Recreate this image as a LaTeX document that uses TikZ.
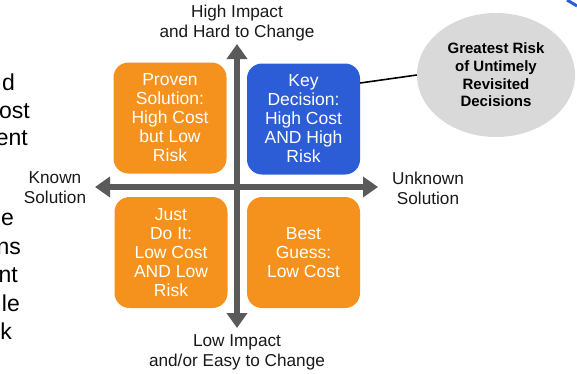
\documentclass[tikz,border=0pt]{standalone}
\usepackage{fontspec}
\setmainfont{Liberation Sans}
\usetikzlibrary{arrows.meta, shapes.geometric}

\definecolor{quadorange}{HTML}{F5921E}
\definecolor{quadblue}{HTML}{2C5DD6}
\definecolor{axisgray}{HTML}{5A5A5A}

\begin{document}
\begin{tikzpicture}[x=1pt, y=-1pt, >={Triangle[length=15pt, width=20pt]}]
          \tikzstyle{quad}=[rounded corners=15pt, minimum width=113pt, minimum height=111pt,
            align=center, text=white, font=\fontsize{17.5}{19}\selectfont]
          \tikzstyle{axislabel}=[align=center, text=black!90, font=\fontsize{17.2}{20}\selectfont]
          \tikzstyle{cut}=[anchor=base east, inner sep=0pt, font=\fontsize{23}{28}\selectfont]

          \useasboundingbox (0,0) rectangle (577,373);

          % text cut off by the left edge
          \node[cut] (c1) at (15,90) {d};
          \node[cut] (c2) at (30,118) {ost};
          \node[cut] (c3) at (28,145) {ent};
          \node[cut] (c4) at (14,225) {e};
          \node[cut] (c5) at (21,254) {ns};
          \node[cut] (c6) at (18,282) {nt};
          \node[cut] (c7) at (20,311) {le};
          \node[cut] (c8) at (12,339) {k};

          % quadrants
          \node[quad, fill=quadorange] (TL) at (170,118) {Proven\\Solution:\\High Cost\\but Low\\Risk};
          \node[quad, fill=quadblue] (TR) at (303.5,119) {Key\\Decision:\\High Cost\\AND High\\Risk};
          \node[quad, fill=quadorange] (BL) at (171,252.5) {Just\\Do It:\\Low Cost\\AND Low\\Risk};
          \node[quad, fill=quadorange] (BR) at (303.5,252.5) {Best\\Guess:\\Low Cost};

          % axes
          \coordinate (L) at (95,187);
          \coordinate (R) at (378,187);
          \coordinate (T) at (237,44);
          \coordinate (B) at (237,328);
          \draw[<->, axisgray, line width=6pt] (L) -- (R);
          \draw[<->, axisgray, line width=6pt] (B) -- (T);

          \node[axislabel] (top) at (237,23) {High Impact\\and Hard to Change};
          \node[axislabel] (bottom) at (237,352) {Low Impact\\and/or Easy to Change};
          \node[axislabel] (left) at (55,188) {Known\\Solution};
          \node[axislabel] (right) at (428,188) {Unknown\\Solution};

          % callout
          \node[ellipse, fill=black!15, minimum width=158pt, minimum height=124pt, align=center,
            font=\bfseries\fontsize{15}{17.7}\selectfont] (risk) at (496,75)
            {Greatest Risk\\of Untimely\\Revisited\\Decisions};
          \draw[line width=1.6pt] ([yshift=36pt]TR.east) -- (risk.west);

          \draw[quadblue, line width=3pt] (567,0) -- (577,6);

        \end{tikzpicture}
\end{document}
